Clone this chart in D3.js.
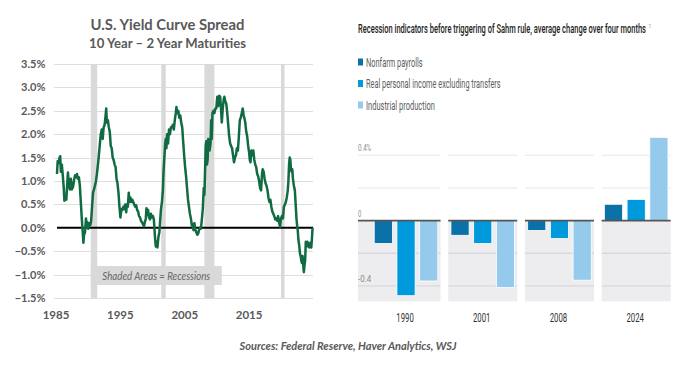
<!DOCTYPE html>
<html>
<head>
<meta charset="utf-8">
<script src="https://cdn.jsdelivr.net/npm/d3@7"></script>
<style>
  html, body { margin: 0; padding: 0; background: #ffffff; }
  svg { display: block; }
</style>
</head>
<body>
<svg id="chart" width="700" height="368"></svg>
<script>
// ---------- Left chart data: 10Y-2Y spread (%) ----------
const spreadYears = [
1985.0,1985.1,1985.25,1985.4,1985.5,1985.6,1985.75,1985.9,1986.05,1986.15,1986.3,1986.45,1986.55,1986.7,1986.85,
1987.0,1987.15,1987.3,1987.5,1987.65,1987.8,1987.95,1988.1,1988.25,1988.4,1988.55,1988.7,1988.85,1989.0,1989.1,
1989.2,1989.35,1989.5,1989.6,1989.7,1989.85,1990.0,1990.15,1990.3,1990.45,1990.6,1990.75,1990.9,1991.05,1991.2,
1991.4,1991.6,1991.8,1991.95,1992.1,1992.25,1992.4,1992.55,1992.65,1992.75,1992.9,1993.05,1993.2,1993.35,1993.5,
1993.65,1993.8,1993.95,1994.1,1994.25,1994.4,1994.55,1994.7,1994.85,1995.0,1995.15,1995.3,1995.45,1995.6,1995.75,
1995.85,1996.0,1996.15,1996.25,1996.4,1996.55,1996.7,1996.85,1997.0,1997.15,1997.3,1997.45,1997.6,1997.75,1997.9,
1998.05,1998.2,1998.35,1998.5,1998.65,1998.8,1998.9,1999.0,1999.15,1999.3,1999.45,1999.6,1999.75,1999.9,2000.05,
2000.15,2000.25,2000.35,2000.5,2000.6,2000.75,2000.9,2001.0,2001.15,2001.3,2001.45,2001.55,2001.7,2001.8,2001.9,
2002.0,2002.1,2002.25,2002.4,2002.55,2002.7,2002.85,2003.0,2003.15,2003.3,2003.45,2003.55,2003.7,2003.85,2004.0,
2004.15,2004.3,2004.45,2004.6,2004.75,2004.9,2005.05,2005.2,2005.35,2005.5,2005.65,2005.8,2005.95,2006.05,2006.2,
2006.35,2006.5,2006.65,2006.8,2006.95,2007.05,2007.2,2007.35,2007.45,2007.55,2007.65,2007.8,2007.9,2008.0,2008.1,
2008.2,2008.3,2008.4,2008.5,2008.6,2008.7,2008.85,2008.95,2009.05,2009.15,2009.3,2009.45,2009.6,2009.75,2009.9,
2010.05,2010.2,2010.35,2010.5,2010.6,2010.75,2010.9,2011.0,2011.15,2011.3,2011.45,2011.6,2011.75,2011.9,2012.05,
2012.2,2012.35,2012.5,2012.65,2012.8,2012.95,2013.1,2013.25,2013.4,2013.55,2013.7,2013.85,2014.0,2014.1,2014.25,
2014.4,2014.55,2014.7,2014.85,2014.95,2015.05,2015.2,2015.35,2015.5,2015.65,2015.8,2015.95,2016.1,2016.25,2016.4,
2016.55,2016.7,2016.85,2016.95,2017.1,2017.25,2017.4,2017.55,2017.7,2017.85,2018.0,2018.15,2018.3,2018.45,2018.6,
2018.75,2018.9,2019.05,2019.2,2019.35,2019.5,2019.65,2019.8,2019.95,2020.1,2020.25,2020.4,2020.55,2020.7,2020.85,
2020.95,2021.05,2021.15,2021.25,2021.35,2021.45,2021.55,2021.65,2021.8,2021.95,2022.1,2022.2,2022.3,2022.4,2022.5,
2022.65,2022.75,2022.85,2022.95,2023.05,2023.15,2023.25,2023.35,2023.45,2023.55,2023.65,2023.8,2023.9,2024.05,2024.2,
2024.35,2024.5,2024.6,2024.7
];
const spreadValues = [
1.15,1.42,1.38,1.50,1.53,1.20,1.35,1.12,0.85,0.58,0.62,0.60,0.85,1.18,0.90,
0.82,1.05,0.82,0.88,1.02,1.12,1.08,1.15,1.05,1.08,0.90,0.55,0.20,-0.10,-0.32,
-0.15,-0.10,0.20,0.05,0.12,-0.02,0.10,0.05,0.14,0.45,0.75,0.82,0.90,1.00,1.15,
1.40,1.70,2.00,2.10,1.90,2.15,2.20,2.40,2.55,2.25,2.30,2.15,2.05,1.75,1.70,
1.50,1.45,1.35,1.30,1.05,0.95,0.75,0.45,0.22,0.40,0.38,0.45,0.40,0.50,0.33,
0.50,0.45,0.75,0.55,0.65,0.55,0.60,0.55,0.50,0.45,0.48,0.38,0.35,0.25,0.22,
0.15,0.12,0.08,0.03,0.12,0.20,0.42,0.28,0.38,0.22,0.18,0.30,0.22,0.25,0.18,
-0.05,-0.25,-0.40,-0.30,-0.42,-0.20,-0.10,0.10,0.40,0.55,0.80,1.20,1.55,1.80,1.90,
1.70,2.00,1.80,2.10,2.00,2.15,2.15,2.20,2.10,2.30,2.45,2.58,2.45,2.50,2.35,
2.40,2.25,2.15,1.85,1.55,1.30,1.10,0.85,0.60,0.45,0.30,0.20,0.05,0.08,-0.05,
0.10,-0.05,-0.10,-0.15,-0.12,-0.05,0.00,-0.02,0.10,0.25,0.40,0.85,0.70,1.20,1.75,
1.85,1.35,1.45,1.90,1.85,1.65,1.80,2.30,1.90,2.45,2.50,2.45,2.55,2.55,2.80,
2.60,2.82,2.80,2.50,2.25,2.55,2.75,2.80,2.70,2.65,2.45,2.20,1.95,1.80,1.75,
1.70,1.55,1.40,1.50,1.55,1.70,1.65,1.95,2.30,2.35,2.45,2.55,2.40,2.35,2.25,
2.05,1.95,1.75,1.60,1.45,1.40,1.65,1.55,1.65,1.45,1.35,1.30,1.15,1.10,1.00,
0.85,0.80,1.15,1.25,1.20,1.05,0.95,0.90,0.80,0.65,0.55,0.60,0.45,0.35,0.30,
0.25,0.18,0.20,0.15,0.25,0.12,0.02,0.20,0.25,0.20,0.45,0.50,0.55,0.65,0.80,
1.00,1.35,1.50,1.45,1.25,1.20,1.25,1.05,0.90,0.80,0.45,0.20,0.05,-0.05,-0.25,
-0.40,-0.55,-0.60,-0.70,-0.75,-0.60,-0.80,-0.95,-0.80,-0.70,-0.30,-0.40,-0.30,-0.35,-0.42,
-0.32,-0.42,-0.25,0.00
];
const recessionStarts = [1990.25, 2001.2, 2007.9, 2019.8];
const recessionEnds   = [1991.25, 2001.9, 2009.45, 2020.35];
const leftYTicks = [-1.5, -1.0, -0.5, 0.0, 0.5, 1.0, 1.5, 2.0, 2.5, 3.0, 3.5];
const leftXTicks = [1985, 1995, 2005, 2015];

// ---------- Right chart data: Sahm rule indicators ----------
const episodes = ["1990", "2001", "2008", "2024"];
const seriesNames = ["Nonfarm payrolls", "Real personal income excluding transfers", "Industrial production"];
const nonfarmPayrolls = [-0.14, -0.09, -0.06, 0.10];
const realIncome      = [-0.46, -0.14, -0.11, 0.13];
const industrialProd  = [-0.37, -0.41, -0.365, 0.51];
const rightGridTicks = [-0.4, -0.2, 0.2, 0.4];
const rightTickLabels = [{v: 0.4, t: "0.4%"}, {v: 0, t: "0"}, {v: -0.4, t: "-0.4"}];
const seriesColors = ["#0a72a8", "#0099db", "#96caec"];

const svg = d3.select("#chart");

// helper: place a text at (x,y) and squeeze horizontally to a target width
function fitText(sel, x, y, width) {
  sel.attr("x", 0).attr("y", 0);
  const natural = sel.node().getComputedTextLength();
  const s = natural > 0 ? width / natural : 1;
  sel.attr("transform", `translate(${x},${y}) scale(${s},1)`);
  return sel;
}

// ================= LEFT CHART =================
const L = {x0: 57, x1: 313, y0: 298, y1: 64};
const xL = d3.scaleLinear().domain([1985, 2024.77]).range([L.x0, L.x1]);
const yL = d3.scaleLinear().domain([-1.5, 3.5]).range([L.y0, L.y1]);
const leftFont = "Lato, 'Open Sans', sans-serif";
const grayTxt = "#595959";

// titles
fitText(svg.append("text").attr("text-anchor", "middle")
  .attr("font-family", leftFont).attr("font-weight", 700).attr("font-size", 15.5)
  .attr("fill", grayTxt).text("U.S. Yield Curve Spread"), 167.5, 30, 154);
fitText(svg.append("text").attr("text-anchor", "middle")
  .attr("font-family", leftFont).attr("font-weight", 700).attr("font-size", 13.5)
  .attr("fill", grayTxt).text("10 Year \u2013 2 Year Maturities"), 167.5, 47.5, 157);

// gridlines
const gL = svg.append("g");
gL.selectAll("line.grid").data(leftYTicks.filter(d => d !== 0)).join("line")
  .attr("x1", L.x0 - 3).attr("x2", L.x1)
  .attr("y1", d => Math.round(yL(d)) + 0.5).attr("y2", d => Math.round(yL(d)) + 0.5)
  .attr("stroke", "#dedede").attr("stroke-width", 1);

// recession bands
gL.selectAll("rect.rec").data(recessionStarts).join("rect")
  .attr("x", (d) => xL(d)).attr("width", (d, i) => xL(recessionEnds[i]) - xL(d))
  .attr("y", L.y1).attr("height", L.y0 - L.y1)
  .attr("fill", "#d9d9d9");

// shaded areas label box
gL.append("rect").attr("x", xL(1990.25)).attr("y", 266).attr("width", xL(2010.6) - xL(1990.25)).attr("height", 19)
  .attr("fill", "#d9d9d9");
fitText(gL.append("text").attr("text-anchor", "middle")
  .attr("font-family", leftFont).attr("font-style", "italic").attr("font-size", 11)
  .attr("fill", "#666").text("Shaded Areas = Recessions"), (xL(1990.25) + xL(2010.6)) / 2, 279.5, 108);

// zero line
gL.append("line").attr("x1", L.x0).attr("x2", L.x1).attr("y1", yL(0)).attr("y2", yL(0))
  .attr("stroke", "#000").attr("stroke-width", 2);

// y labels
gL.selectAll("text.yl").data(leftYTicks).join("text")
  .attr("x", 45.5).attr("y", d => yL(d) + 4).attr("text-anchor", "end")
  .attr("font-family", leftFont).attr("font-weight", 700).attr("font-size", 11)
  .attr("fill", grayTxt).text(d => d3.format(".1f")(d) + "%");

// x labels
gL.selectAll("text.xl").data(leftXTicks).join("text")
  .attr("x", d => xL(d) - 1).attr("y", 318.5).attr("text-anchor", "middle")
  .attr("font-family", leftFont).attr("font-weight", 700).attr("font-size", 11.5)
  .attr("fill", grayTxt).text(d => d);

// line
const pts = spreadYears.map((y, i) => [y, spreadValues[i]]);
gL.append("path").datum(pts)
  .attr("d", d3.line().x(d => xL(d[0])).y(d => yL(d[1])))
  .attr("fill", "none").attr("stroke", "#116b42").attr("stroke-width", 2.5)
  .attr("stroke-linejoin", "round");

// sources
fitText(svg.append("text").attr("text-anchor", "middle")
  .attr("font-family", leftFont).attr("font-style", "italic").attr("font-weight", 700).attr("font-size", 11)
  .attr("fill", grayTxt).text("Sources: Federal Reserve,  Haver Analytics, WSJ"), 348, 350, 217);

// ================= RIGHT CHART =================
const rightFont = "Roboto, 'Liberation Sans Narrow', 'Noto Sans', sans-serif";
const R = {x0: 371.5, x1: 670.7, labelX: 358};
const yR = d3.scaleLinear().domain([-0.4, 0.4]).range([285.9, 155.3]);
const yBottom = yR(-0.495);
const xOuter = d3.scaleBand().domain(episodes).range([R.x0, R.x1]).paddingInner(0.1).paddingOuter(0);
const xInner = d3.scaleBand().domain(seriesNames).range([0, xOuter.bandwidth()]).paddingInner(0.2).paddingOuter(0.12);

// title
fitText(svg.append("text")
  .attr("font-family", rightFont).attr("font-weight", 500).attr("font-size", 12).attr("fill", "#222")
  .text("Recession indicators before triggering of Sahm rule, average change over four months"), 358, 33, 288);
svg.append("text").attr("x", 648.5).attr("y", 28)
  .attr("font-family", rightFont).attr("font-size", 5).attr("fill", "#999").text("1");

// legend
const legendY = [66.5, 88, 109.5];
const legendW = [56.7, 134.7, 69];
const lg = svg.append("g");
seriesNames.forEach((s, i) => {
  lg.append("rect").attr("x", 358).attr("y", legendY[i] - 8).attr("width", 5).attr("height", 7)
    .attr("fill", seriesColors[i]);
  fitText(lg.append("text")
    .attr("font-family", rightFont).attr("font-size", 12.5).attr("fill", "#5e5e5e").text(s),
    366, legendY[i], legendW[i]);
});

// panels
const allSeries = [nonfarmPayrolls, realIncome, industrialProd];
const gR = svg.append("g");
episodes.forEach((ep, ei) => {
  const px0 = ei === 0 ? R.labelX : xOuter(ep);
  const px1 = xOuter(ep) + xOuter.bandwidth();
  const pg = gR.append("g");
  // gray negative background
  pg.append("rect").attr("x", px0).attr("y", yR(0)).attr("width", px1 - px0).attr("height", yBottom - yR(0))
    .attr("fill", "#ededef");
  // gridlines
  pg.selectAll("line.g").data(rightGridTicks).join("line")
    .attr("x1", px0).attr("x2", px1)
    .attr("y1", d => yR(d)).attr("y2", d => yR(d))
    .attr("stroke", d => d > 0 ? "#ececec" : "#d9d9dc").attr("stroke-width", 1.3);
  // bars
  seriesNames.forEach((s, si) => {
    const v = allSeries[si][ei];
    pg.append("rect")
      .attr("x", xOuter(ep) + xInner(s)).attr("width", xInner.bandwidth())
      .attr("y", Math.min(yR(v), yR(0))).attr("height", Math.abs(yR(v) - yR(0)))
      .attr("fill", seriesColors[si]).attr("stroke", "#fff").attr("stroke-width", 0.8);
  });
  // zero line
  pg.append("line").attr("x1", px0).attr("x2", px1).attr("y1", yR(0)).attr("y2", yR(0))
    .attr("stroke", "#555").attr("stroke-width", 1.6);
  // category label
  fitText(pg.append("text").attr("text-anchor", "middle")
    .attr("font-family", rightFont).attr("font-size", 12.5).attr("fill", "#333").text(ep),
    xOuter(ep) + xOuter.bandwidth() / 2 - 1, 321.5, 17.5);
});

// axis labels
rightTickLabels.forEach(d => {
  fitText(gR.append("text")
    .attr("font-family", rightFont).attr("font-size", 9).attr("fill", "#8c8c8c").text(d.t),
    R.labelX, yR(d.v) - 4, d.t.length * 3.3);
});
</script>
</body>
</html>
